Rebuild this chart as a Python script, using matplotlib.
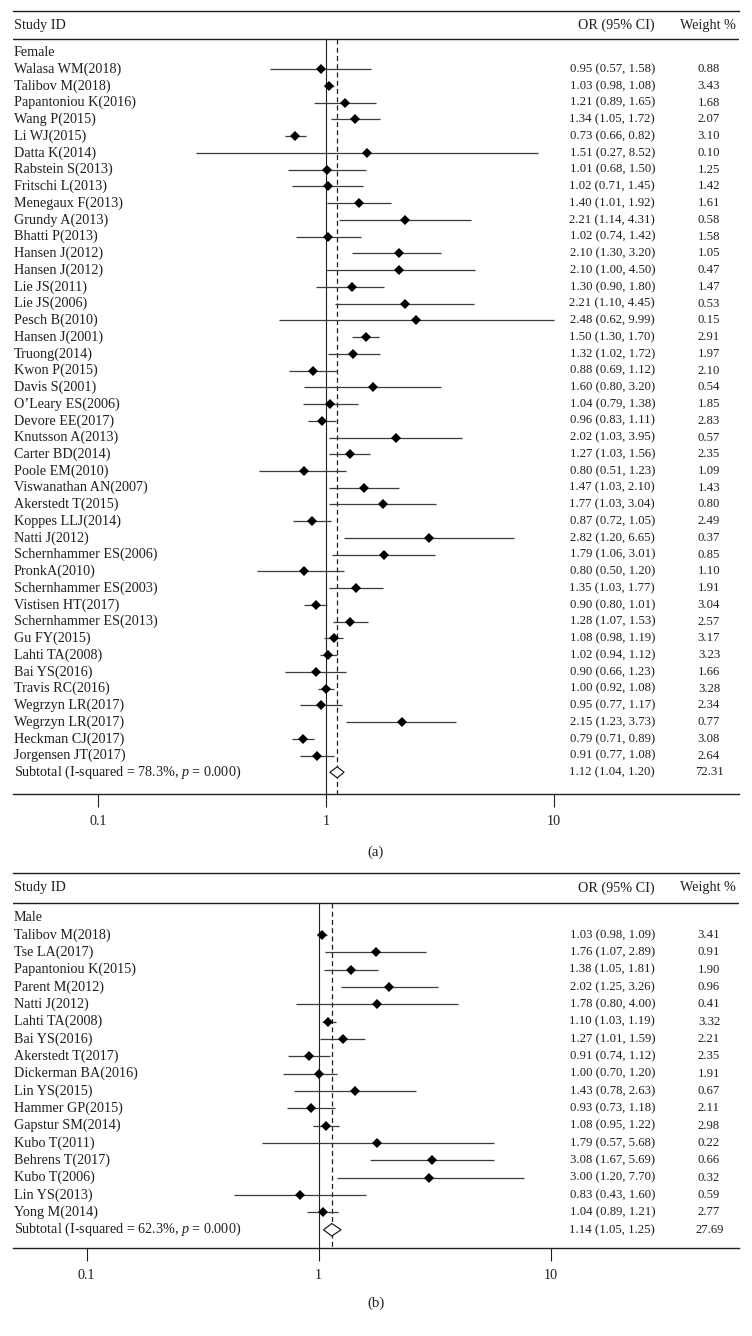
import matplotlib
matplotlib.use("Agg")
import matplotlib.pyplot as plt
from matplotlib.patches import Polygon
from matplotlib.transforms import blended_transform_factory
from matplotlib.ticker import FixedLocator, FixedFormatter, NullLocator

plt.rcParams['font.family'] = ['Liberation Serif', 'DejaVu Serif']
plt.rcParams['mathtext.fontset'] = 'custom'
plt.rcParams['mathtext.rm'] = 'Liberation Serif'
plt.rcParams['mathtext.it'] = 'Liberation Serif:italic'

# ---------------- data ----------------
female_studies = [
    "Walasa WM(2018)", "Talibov M(2018)", "Papantoniou K(2016)", "Wang P(2015)",
    "Li WJ(2015)", "Datta K(2014)", "Rabstein S(2013)", "Fritschi L(2013)",
    "Menegaux F(2013)", "Grundy A(2013)", "Bhatti P(2013)", "Hansen J(2012)",
    "Hansen J(2012)", "Lie JS(2011)", "Lie JS(2006)", "Pesch B(2010)",
    "Hansen J(2001)", "Truong(2014)", "Kwon P(2015)", "Davis S(2001)",
    "O\u2019Leary ES(2006)", "Devore EE(2017)", "Knutsson A(2013)", "Carter BD(2014)",
    "Poole EM(2010)", "Viswanathan AN(2007)", "Akerstedt T(2015)", "Koppes LLJ(2014)",
    "Natti J(2012)", "Schernhammer ES(2006)", "PronkA(2010)", "Schernhammer ES(2003)",
    "Vistisen HT(2017)", "Schernhammer ES(2013)", "Gu FY(2015)", "Lahti TA(2008)",
    "Bai YS(2016)", "Travis RC(2016)", "Wegrzyn LR(2017)", "Wegrzyn LR(2017)",
    "Heckman CJ(2017)", "Jorgensen JT(2017)",
]
female_or = [0.95, 1.03, 1.21, 1.34, 0.73, 1.51, 1.01, 1.02, 1.40, 2.21, 1.02, 2.10,
             2.10, 1.30, 2.21, 2.48, 1.50, 1.32, 0.88, 1.60, 1.04, 0.96, 2.02, 1.27,
             0.80, 1.47, 1.77, 0.87, 2.82, 1.79, 0.80, 1.35, 0.90, 1.28, 1.08, 1.02,
             0.90, 1.00, 0.95, 2.15, 0.79, 0.91]
female_lo = [0.57, 0.98, 0.89, 1.05, 0.66, 0.27, 0.68, 0.71, 1.01, 1.14, 0.74, 1.30,
             1.00, 0.90, 1.10, 0.62, 1.30, 1.02, 0.69, 0.80, 0.79, 0.83, 1.03, 1.03,
             0.51, 1.03, 1.03, 0.72, 1.20, 1.06, 0.50, 1.03, 0.80, 1.07, 0.98, 0.94,
             0.66, 0.92, 0.77, 1.23, 0.71, 0.77]
female_hi = [1.58, 1.08, 1.65, 1.72, 0.82, 8.52, 1.50, 1.45, 1.92, 4.31, 1.42, 3.20,
             4.50, 1.80, 4.45, 9.99, 1.70, 1.72, 1.12, 3.20, 1.38, 1.11, 3.95, 1.56,
             1.23, 2.10, 3.04, 1.05, 6.65, 3.01, 1.20, 1.77, 1.01, 1.53, 1.19, 1.12,
             1.23, 1.08, 1.17, 3.73, 0.89, 1.08]
female_weight = [0.88, 3.43, 1.68, 2.07, 3.10, 0.10, 1.25, 1.42, 1.61, 0.58, 1.58, 1.05,
                 0.47, 1.47, 0.53, 0.15, 2.91, 1.97, 2.10, 0.54, 1.85, 2.83, 0.57, 2.35,
                 1.09, 1.43, 0.80, 2.49, 0.37, 0.85, 1.10, 1.91, 3.04, 2.57, 3.17, 3.23,
                 1.66, 3.28, 2.34, 0.77, 3.08, 2.64]
female_subtotal = [1.12, 1.04, 1.20]
female_subtotal_weight = 72.31
female_i2 = 78.3

male_studies = [
    "Talibov M(2018)", "Tse LA(2017)", "Papantoniou K(2015)", "Parent M(2012)",
    "Natti J(2012)", "Lahti TA(2008)", "Bai YS(2016)", "Akerstedt T(2017)",
    "Dickerman BA(2016)", "Lin YS(2015)", "Hammer GP(2015)", "Gapstur SM(2014)",
    "Kubo T(2011)", "Behrens T(2017)", "Kubo T(2006)", "Lin YS(2013)", "Yong M(2014)",
]
male_or = [1.03, 1.76, 1.38, 2.02, 1.78, 1.10, 1.27, 0.91, 1.00, 1.43, 0.93, 1.08,
           1.79, 3.08, 3.00, 0.83, 1.04]
male_lo = [0.98, 1.07, 1.05, 1.25, 0.80, 1.03, 1.01, 0.74, 0.70, 0.78, 0.73, 0.95,
           0.57, 1.67, 1.20, 0.43, 0.89]
male_hi = [1.09, 2.89, 1.81, 3.26, 4.00, 1.19, 1.59, 1.12, 1.20, 2.63, 1.18, 1.22,
           5.68, 5.69, 7.70, 1.60, 1.21]
male_weight = [3.41, 0.91, 1.90, 0.96, 0.41, 3.32, 2.21, 2.35, 1.91, 0.67, 2.11, 2.98,
               0.22, 0.66, 0.32, 0.59, 2.77]
male_subtotal = [1.14, 1.05, 1.25]
male_subtotal_weight = 27.69
male_i2 = 62.3

tick_values = [0.1, 1, 10]
tick_labels = ["0.1", "1", "10"]

# ---------------- drawing ----------------
W, H = 752, 1336
fig = plt.figure(figsize=(W / 100, H / 100), dpi=100)
INK = "#231f20"
LINE = "#3c3c3c"
FS = 10.2
FS_OR = 9.2
X_LEFT, X_RIGHT = 13, 739


def panel(group, studies, ors, los, his, weights, sub, sub_w, i2, caption,
          top_px, head_rule_px, head_text_px, row0_px, step, axis_px,
          one_px, decade_px, caption_px, dia_h):
    ax = fig.add_axes([X_LEFT / W, 1 - axis_px / H, (X_RIGHT - X_LEFT) / W,
                       (axis_px - top_px) / H])
    ax.set_xscale("log")
    ax.set_xlim(10 ** ((X_LEFT - one_px) / decade_px), 10 ** ((X_RIGHT - one_px) / decade_px))
    to_row = lambda p: (p - row0_px) / step
    ax.set_ylim(to_row(axis_px), to_row(top_px))

    for s in ("left", "right"):
        ax.spines[s].set_visible(False)
    for s in ("top", "bottom"):
        ax.spines[s].set_color(INK)
        ax.spines[s].set_linewidth(1.0)
    ax.yaxis.set_major_locator(NullLocator())
    ax.xaxis.set_major_locator(FixedLocator(tick_values))
    ax.xaxis.set_major_formatter(FixedFormatter(tick_labels))
    ax.xaxis.set_minor_locator(NullLocator())
    ax.tick_params(axis="x", which="major", direction="out", length=9.4, width=0.8,
                   color=INK, labelsize=FS, labelcolor=INK, pad=6)
    ax.patch.set_alpha(0)

    hr = to_row(head_rule_px)
    ax.axhline(hr, color=INK, lw=1.0)
    bottom = to_row(axis_px)
    ax.plot([1, 1], [hr, bottom], color=INK, lw=0.8, clip_on=False)
    ax.plot([sub[0], sub[0]], [hr, bottom], color=INK, lw=0.9, dashes=(4, 2.6))

    tr = blended_transform_factory(ax.transAxes, ax.transData)
    fx = lambda p: (p - X_LEFT) / (X_RIGHT - X_LEFT)
    ht = to_row(head_text_px)
    ax.text(fx(14), ht, "Study ID", transform=tr, ha="left", va="center", fontsize=FS, color=INK)
    ax.text(fx(655), ht, "OR (95% CI)", transform=tr, ha="right", va="center", fontsize=FS, color=INK)
    ax.text(fx(708), ht, "Weight %", transform=tr, ha="center", va="center", fontsize=FS, color=INK)

    ax.text(fx(14), 0, group, transform=tr, ha="left", va="center", fontsize=FS, color=INK)
    rows = list(range(1, len(studies) + 1))
    ax.hlines(rows, los, his, color=LINE, lw=0.9)
    ax.plot(ors, rows, ls="none", marker="D", ms=5.4, mew=0, color="black")
    for r, name, o, lo, hi, w in zip(rows, studies, ors, los, his, weights):
        ax.text(fx(14), r, name, transform=tr, ha="left", va="center", fontsize=FS, color=INK)
        ax.text(fx(655), r, f"{o:.2f} ({lo:.2f}, {hi:.2f})", transform=tr, ha="right",
                va="center", fontsize=FS_OR, color=INK)
        ax.text(fx(709), r, f"{w:.2f}", transform=tr, ha="center", va="center",
                fontsize=FS_OR, color=INK)

    rs = len(studies) + 1
    est, lo, hi = sub
    ax.add_patch(Polygon([(lo, rs), (est, rs - dia_h), (hi, rs), (est, rs + dia_h)],
                         closed=True, facecolor="white", edgecolor=INK, lw=0.9, zorder=3))
    ax.text(fx(14), rs, f"Subtotal (I-squared = {i2:.1f}%, $p$ = 0.000)", transform=tr,
            ha="left", va="center", fontsize=FS, color=INK)
    ax.text(fx(655), rs, f"{est:.2f} ({lo:.2f}, {hi:.2f})", transform=tr, ha="right",
            va="center", fontsize=FS_OR, color=INK)
    ax.text(fx(710), rs, f"{sub_w:.2f}", transform=tr, ha="center", va="center",
            fontsize=FS_OR, color=INK)

    fig.text(376 / W, 1 - caption_px / H, caption, ha="center", va="center",
             fontsize=FS + 0.5, color=INK)


panel("Female", female_studies, female_or, female_lo, female_hi, female_weight,
      female_subtotal, female_subtotal_weight, female_i2, "(a)",
      top_px=11, head_rule_px=39, head_text_px=25, row0_px=52.5, step=16.74,
      axis_px=794, one_px=326, decade_px=228, caption_px=852, dia_h=0.33)

panel("Male", male_studies, male_or, male_lo, male_hi, male_weight,
      male_subtotal, male_subtotal_weight, male_i2, "(b)",
      top_px=873, head_rule_px=903, head_text_px=888, row0_px=917.5, step=17.35,
      axis_px=1248, one_px=318.6, decade_px=232, caption_px=1303, dia_h=0.36)

fig.savefig("out.png", dpi=100, facecolor="white")
